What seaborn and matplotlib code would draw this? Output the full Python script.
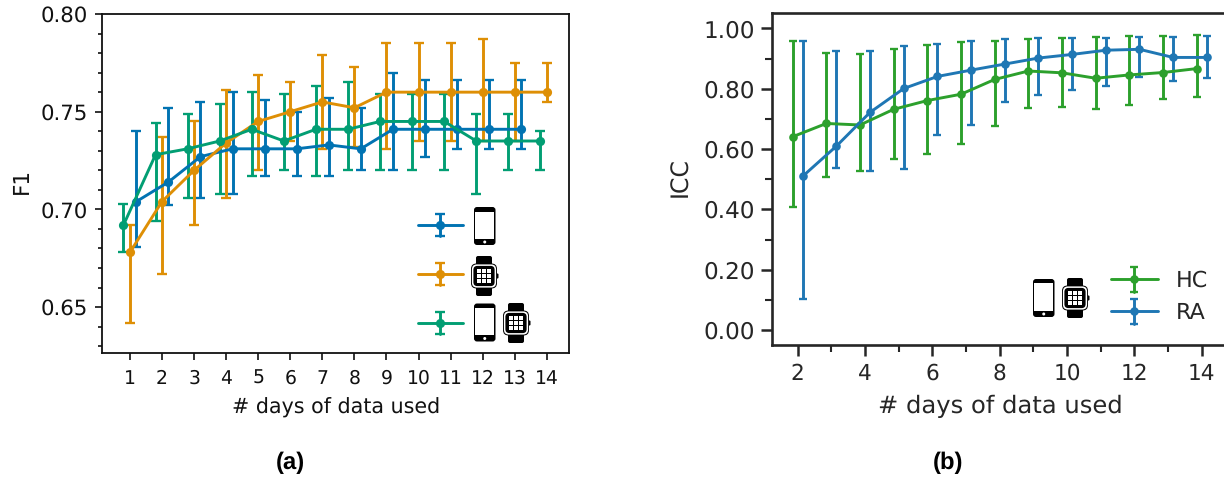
import numpy as np
import pandas as pd
import seaborn as sns
import matplotlib
matplotlib.use("Agg")
import matplotlib.pyplot as plt
import matplotlib.lines as mlines
from matplotlib.patches import FancyBboxPatch, Rectangle, Circle
from matplotlib.transforms import Affine2D
from matplotlib.ticker import MultipleLocator, FormatStrFormatter
from matplotlib.legend_handler import HandlerBase

# ---------- panel (a) ----------
days_a = list(range(1, 15))
phone_mean = [.704, .714, .727, .731, .731, .731, .733, .731, .741, .741, .741, .741, .741]
phone_hi = [.740, .752, .755, .760, .756, .750, .757, .752, .770, .766, .766, .766, .766]
phone_lo = [.681, .702, .706, .708, .717, .717, .717, .720, .720, .727, .731, .731, .731]
watch_mean = [.678, .704, .720, .734, .745, .750, .755, .752, .760, .760, .760, .760, .760, .760]
watch_hi = [.692, .737, .745, .761, .769, .765, .779, .773, .785, .785, .785, .787, .775, .775]
watch_lo = [.642, .667, .692, .706, .720, .735, .731, .732, .731, .735, .735, .735, .735, .755]
both_mean = [.692, .728, .731, .735, .741, .735, .741, .741, .745, .745, .745, .735, .735, .735]
both_hi = [.703, .744, .749, .754, .760, .759, .763, .765, .759, .759, .759, .749, .749, .740]
both_lo = [.678, .694, .706, .708, .717, .720, .717, .720, .720, .720, .720, .708, .720, .720]

# ---------- panel (b) ----------
days_b = list(range(2, 15))
hc_mean = [.641, .685, .680, .732, .761, .782, .831, .859, .853, .835, .846, .854, .867]
hc_hi = [.958, .918, .917, .933, .945, .954, .960, .964, .967, .972, .976, .976, .978]
hc_lo = [.408, .507, .527, .567, .585, .617, .677, .737, .740, .734, .746, .766, .774]
ra_mean = [.510, .610, .722, .801, .841, .862, .882, .902, .914, .928, .931, .904, .904]
ra_hi = [.958, .925, .926, .943, .950, .958, .964, .967, .968, .970, .973, .973, .975]
ra_lo = [.104, .536, .527, .535, .647, .679, .755, .779, .796, .809, .840, .825, .837]

W, H = 1224, 478
sns.set_theme(style="ticks", rc={"axes.edgecolor": "#262626", "xtick.color": "#262626",
                                 "ytick.color": "#262626", "text.color": "#262626",
                                 "axes.labelcolor": "#262626"})
plt.rcParams["font.family"] = ["DejaVu Sans"]
plt.rcParams["text.hinting"] = "none"
fig = plt.figure(figsize=(W / 100, H / 100), dpi=100)
DARK = "#111111"


def axes_px(x0, y0, x1, y1):
    return fig.add_axes([x0 / W, 1 - y1 / H, (x1 - x0) / W, (y1 - y0) / H])


def series(ax, x, mean, lo, hi, offset, color, lw, ms, cap):
    xs = np.asarray(x, dtype=float) + offset
    m = np.asarray(mean)
    err = np.vstack([m - np.asarray(lo), np.asarray(hi) - m])
    ax.errorbar(xs, m, yerr=err, fmt="none", ecolor=color, elinewidth=lw,
                capsize=cap, capthick=lw * 0.8, zorder=3)
    df = pd.DataFrame({"x": xs, "y": m})
    sns.lineplot(data=df, x="x", y="y", ax=ax, color=color, lw=lw, marker="o", ms=ms,
                 mew=0, errorbar=None, zorder=3.1)


class ErrKey:
    """Legend key description: a line with a dot and a capped vertical error bar."""

    def __init__(self, color, lw, ms, cap):
        self.color, self.lw, self.ms, self.cap = color, lw, ms, cap


class ErrKeyHandler(HandlerBase):
    def create_artists(self, legend, orig, xdescent, ydescent, width, height, fontsize, trans):
        cx = width / 2 - xdescent
        cy = height / 2 - ydescent
        e = 0.57 * fontsize
        style = dict(color=orig.color, transform=trans)
        arts = [
            mlines.Line2D([-xdescent, width - xdescent], [cy, cy], lw=orig.lw, **style),
            mlines.Line2D([cx, cx], [cy - e, cy + e], lw=orig.lw, **style),
            mlines.Line2D([cx, cx], [cy - e, cy + e], lw=0, marker="_", ms=2 * orig.cap,
                          mew=orig.lw * 0.8, **style),
            mlines.Line2D([cx], [cy], lw=0, marker="o", ms=orig.ms, mew=0, **style),
        ]
        return arts


hmap = {ErrKey: ErrKeyHandler()}


def place_labels(ax, box, xc, yc, ly_x, ly_y):
    x0, y0, x1, y1 = box
    ax.xaxis.label.set_va("center")
    ax.yaxis.label.set_va("center")
    ax.xaxis.set_label_coords((xc - x0) / (x1 - x0), 1 - (yc - y0) / (y1 - y0))
    ax.yaxis.set_label_coords((ly_x - x0) / (x1 - x0), 1 - (ly_y - y0) / (y1 - y0))


# -------- (a) --------
pal = sns.color_palette("colorblind")
box1 = (102, 14, 569, 353)
ax1 = axes_px(*box1)
series(ax1, days_a[:13], phone_mean, phone_lo, phone_hi, 0.2, pal[0], 2.1, 6.6, 3.3)
series(ax1, days_a, watch_mean, watch_lo, watch_hi, 0.0, pal[1], 2.1, 6.6, 3.3)
series(ax1, days_a, both_mean, both_lo, both_hi, -0.2, pal[2], 2.1, 6.6, 3.3)
ax1.set_xlim(0.13, 14.69)
ax1.set_ylim(0.6265, 0.80)
ax1.set_xticks(days_a)
ax1.yaxis.set_major_locator(MultipleLocator(0.05))
ax1.yaxis.set_minor_locator(MultipleLocator(0.01))
ax1.yaxis.set_major_formatter(FormatStrFormatter("%.2f"))
ax1.tick_params(axis="x", which="major", labelsize=13.5, length=5, width=1.2, pad=7,
                color=DARK, labelcolor=DARK)
ax1.tick_params(axis="y", which="major", labelsize=15.3, length=5, width=1.2, pad=5.5,
                color=DARK, labelcolor=DARK)
ax1.tick_params(axis="y", which="minor", length=2.6, width=1.2, color=DARK)
ax1.set_xlabel("# days of data used", fontsize=14.9, color=DARK)
ax1.set_ylabel("F1", fontsize=15.5, color=DARK)
place_labels(ax1, box1, 336, 407.5, 21.5, 181)
for s in ax1.spines.values():
    s.set_linewidth(1.3)
    s.set_color(DARK)
h1 = [ErrKey(pal[i], 2.1, 6.6, 3.3) for i in range(3)]
leg1 = ax1.legend(h1, [" ", " ", " "], loc="center left", frameon=False, fontsize=14,
                  handlelength=2.3, labelspacing=1.57, borderpad=0, borderaxespad=0,
                  handler_map=hmap,
                  bbox_to_anchor=((418 - 102) / 467, 1 - (275.5 - 14) / 339))

# -------- (b) --------
box2 = (772, 13, 1240, 345)
ax2 = axes_px(*box2)
series(ax2, days_b, hc_mean, hc_lo, hc_hi, -0.15, "#2ca02c", 2.1, 6.2, 3.0)
series(ax2, days_b, ra_mean, ra_lo, ra_hi, 0.15, "#1f77b4", 2.1, 6.2, 3.0)
ax2.set_xlim(2 + (772 - 797.7) / 33.67, 2 + (1240 - 797.7) / 33.67)
ax2.set_ylim(-15 / 301.5, 317 / 301.5)
ax2.xaxis.set_major_locator(MultipleLocator(2))
ax2.xaxis.set_minor_locator(MultipleLocator(1))
ax2.yaxis.set_major_locator(MultipleLocator(0.2))
ax2.yaxis.set_minor_locator(MultipleLocator(0.1))
ax2.yaxis.set_major_formatter(FormatStrFormatter("%.2f"))
ax2.tick_params(axis="x", which="major", labelsize=15.6, length=8.2, width=1.8, pad=5)
ax2.tick_params(axis="y", which="major", labelsize=16.7, length=8.2, width=1.8, pad=4)
ax2.tick_params(which="minor", length=5, width=1.5)
ax2.set_xlabel("# days of data used", fontsize=17.5)
ax2.set_ylabel("ICC", fontsize=17)
place_labels(ax2, box2, 1000.5, 406.5, 681, 177)
for s in ax2.spines.values():
    s.set_linewidth(1.9)
h2 = [ErrKey(c, 2.1, 6.2, 3.0) for c in ("#2ca02c", "#1f77b4")]
leg2 = ax2.legend(h2, ["HC", "RA"], loc="center left", frameon=False, fontsize=16,
                  handlelength=2.1, labelspacing=0.48, borderpad=0, borderaxespad=0,
                  handletextpad=0.8, handler_map=hmap,
                  bbox_to_anchor=((1111 - 772) / 468, 1 - (297 - 13) / 332))

# -------- device icons, placed in figure pixels --------
px = Affine2D().scale(1 / W, -1 / H).translate(0, 1) + fig.transFigure


def rrect(x0, y0, x1, y1, r, color, z=5):
    fig.add_artist(FancyBboxPatch((x0 + r, y0 + r), x1 - x0 - 2 * r, y1 - y0 - 2 * r,
                                  boxstyle=f"round,pad={r},rounding_size={r}", fc=color,
                                  ec="none", lw=0, transform=px, zorder=z))


def phone(x0, y0, w=21.5, h=38):
    rrect(x0, y0, x0 + w, y0 + h, 3, "black")
    fig.add_artist(Rectangle((x0 + 1.1, y0 + 4.5), w - 2.2, h - 10.5, fc="white", ec="none",
                             transform=px, zorder=6))
    fig.add_artist(Circle((x0 + w / 2, y0 + h - 3), 1.5, fc="white", ec="none",
                          transform=px, zorder=6))


def watch(x0, y0, w=26, h=40):
    cx = x0 + w / 2
    rrect(cx - 8, y0, cx + 8, y0 + h, 2, "black")
    by0, by1 = y0 + 7.5, y0 + h - 7.5
    rrect(x0 + w - 2, (by0 + by1) / 2 - 2.5, x0 + w + 1.5, (by0 + by1) / 2 + 2.5, 1, "black")
    rrect(x0, by0, x0 + w, by1, 5.5, "black", z=6)
    rrect(x0 + 0.9, by0 + 0.9, x0 + w - 0.9, by1 - 0.9, 5, "white", z=7)
    rrect(x0 + 2.4, by0 + 2.4, x0 + w - 2.4, by1 - 2.4, 4, "black", z=8)
    gx = cx - 7
    gy = (by0 + by1) / 2 - 7
    for i in range(3):
        for j in range(3):
            fig.add_artist(Rectangle((gx + i * 5.1, gy + j * 5.1), 3.8, 3.8, fc="white", ec="none",
                                     transform=px, zorder=9))


phone(474, 207)
watch(471, 256)
phone(474, 303.5)
watch(503, 303)
phone(1033, 279)
watch(1062, 278)

fig.text(290 / W, 1 - 463 / H, "(a)", family="Liberation Sans", weight="bold", fontsize=17.2,
         color="black", ha="center", va="center")
fig.text(948 / W, 1 - 463 / H, "(b)", family="Liberation Sans", weight="bold", fontsize=17.2,
         color="black", ha="center", va="center")

fig.savefig("out.png", dpi=100)
